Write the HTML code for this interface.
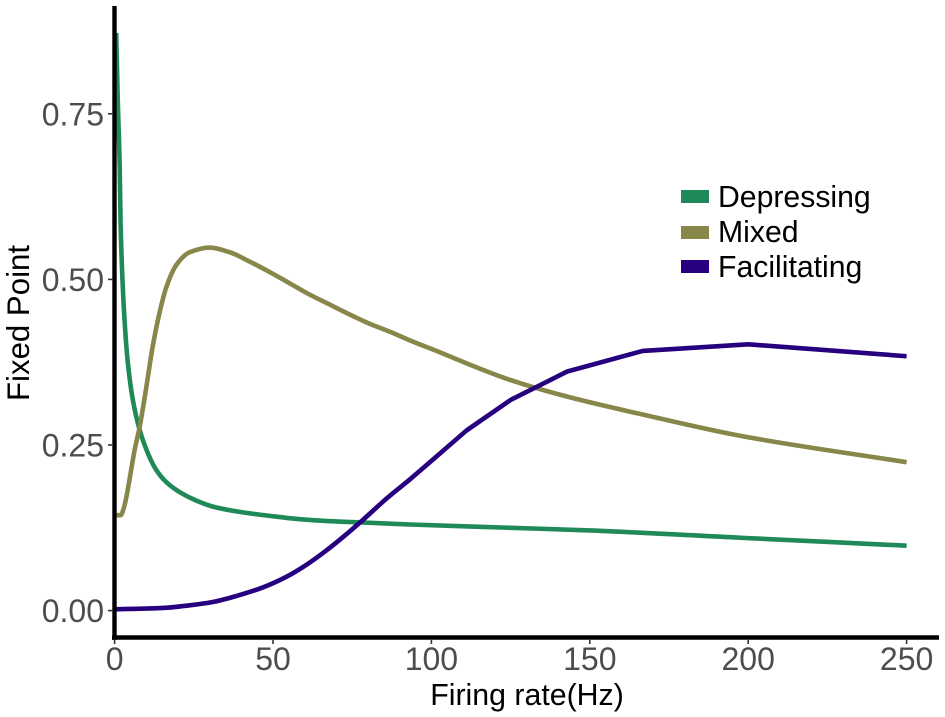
<!DOCTYPE html>
<html>
<head>
<meta charset="utf-8">
<title>Fixed Point vs Firing rate</title>
<style>
html,body{margin:0;padding:0;background:#fff;}
svg{display:block;font-family:"Liberation Sans",sans-serif;}
</style>
</head>
<body>
<svg id="chart" xmlns="http://www.w3.org/2000/svg" width="945" height="717" viewBox="0 0 945 717"></svg>
<script>
const xTicks = [0, 50, 100, 150, 200, 250];
const yTicks = [0, 0.25, 0.5, 0.75];
const yTickLabels = ["0.00", "0.25", "0.50", "0.75"];
const seriesNames = ["Depressing", "Mixed", "Facilitating"];
const depressingRate = [0.5,1.0,1.6,1.9,2.4,3.2,4.2,5.8,7.9,11,13.2,16.3,20.5,25.8,31,39.5,49,58.4,67.9,78.3,93.2,125,150,197.4,250];
const depressingValue = [0.872,0.771,0.672,0.582,0.509,0.434,0.373,0.317,0.273,0.232,0.212,0.194,0.179,0.166,0.157,0.149,0.143,0.138,0.135,0.133,0.130,0.125,0.121,0.110,0.098];
const mixedRate = [0.5,1.9,2.8,3.7,5,6.3,7.9,10,12,14.2,16.3,19.5,23.7,30,36.3,42.6,49,55.3,61.6,67.9,74.2,80.5,86.9,93.2,99.5,125,142.9,166.7,197.4,250];
const mixedValue = [0.144,0.144,0.153,0.171,0.206,0.242,0.277,0.337,0.398,0.450,0.488,0.522,0.541,0.548,0.541,0.527,0.511,0.494,0.477,0.462,0.447,0.433,0.421,0.408,0.396,0.348,0.323,0.296,0.264,0.224];
const facilitatingRate = [0,15.3,23.7,31,38.4,46.8,54.2,60.5,66.9,72.1,78.4,85.8,93.2,100,111.1,125,142.9,166.7,200,250];
const facilitatingValue = [0.002,0.004,0.008,0.013,0.022,0.035,0.051,0.069,0.091,0.111,0.137,0.169,0.198,0.226,0.272,0.318,0.361,0.392,0.402,0.384];

const colors = ["#1f8a57", "#88874a", "#27007f"];
const straightFromRate = [Infinity, Infinity, 100];
const svgNS = "http://www.w3.org/2000/svg";
const svg = document.getElementById("chart");
const xScale = v => 114.6 + v * 3.168;
const yScale = v => 610.6 - v * 662.4;

function add(tag, attrs, parent) {
  const el = document.createElementNS(svgNS, tag);
  for (const k in attrs) el.setAttribute(k, attrs[k]);
  (parent || svg).appendChild(el);
  return el;
}

// monotone cubic path through the data, straight segments past the given rate
function linePath(xs, ys, straightFrom) {
  const px = xs.map(xScale), py = ys.map(yScale), n = px.length;
  const s = [];
  for (let i = 0; i < n - 1; i++) s.push((py[i + 1] - py[i]) / (px[i + 1] - px[i]));
  const m = [s[0]];
  for (let i = 1; i < n - 1; i++) {
    if (s[i - 1] * s[i] <= 0) { m.push(0); continue; }
    const h0 = px[i] - px[i - 1], h1 = px[i + 1] - px[i];
    m.push(3 * (h0 + h1) / ((2 * h1 + h0) / s[i - 1] + (h1 + 2 * h0) / s[i]));
  }
  m.push(s[n - 2]);
  let d = "M" + px[0].toFixed(2) + " " + py[0].toFixed(2);
  for (let i = 0; i < n - 1; i++) {
    if (xs[i] >= straightFrom) {
      d += " L" + px[i + 1].toFixed(2) + " " + py[i + 1].toFixed(2);
    } else {
      const h = (px[i + 1] - px[i]) / 3;
      d += " C" + (px[i] + h).toFixed(2) + " " + (py[i] + m[i] * h).toFixed(2) + " " +
        (px[i + 1] - h).toFixed(2) + " " + (py[i + 1] - m[i + 1] * h).toFixed(2) + " " +
        px[i + 1].toFixed(2) + " " + py[i + 1].toFixed(2);
    }
  }
  return d;
}

// series
const rates = [depressingRate, mixedRate, facilitatingRate];
const values = [depressingValue, mixedValue, facilitatingValue];
seriesNames.forEach((name, i) => {
  const p = add("path", {d: linePath(rates[i], values[i], straightFromRate[i]), fill: "none", stroke: colors[i], "stroke-width": 4.6, "stroke-linejoin": "round"});
  
  
});

// axes
const yAxis = add("line", {x1: 114.5, x2: 114.5, y1: 6, y2: 640, stroke: "#000", "stroke-width": 4.4});


const xAxis = add("line", {x1: 112, x2: 939, y1: 637.5, y2: 637.5, stroke: "#000", "stroke-width": 4.4});



// ticks
xTicks.forEach(t => {
  const tick = add("line", {x1: xScale(t), x2: xScale(t), y1: 639, y2: 644, stroke: "#333", "stroke-width": 1.6});
  
  
  const label = add("text", {x: xScale(t), y: 670, "text-anchor": "middle", "font-size": 32, fill: "#4d4d4d"});
  label.textContent = String(t);
  
  
});
yTicks.forEach((t, i) => {
  const tick = add("line", {x1: 108, x2: 113, y1: yScale(t), y2: yScale(t), stroke: "#333", "stroke-width": 1.6});
  
  
  const label = add("text", {x: 104, y: yScale(t) + 11.5, "text-anchor": "end", "font-size": 32, fill: "#4d4d4d"});
  label.textContent = yTickLabels[i];
  
  
});

// axis titles
const xTitle = add("text", {x: 527, y: 705, "text-anchor": "middle", "font-size": 30.3, fill: "#000"});
xTitle.textContent = "Firing rate(Hz)";


const yTitle = add("text", {x: 0, y: 0, transform: "translate(29 323) rotate(-90)", "text-anchor": "middle", "font-size": 31.2, fill: "#000"});
yTitle.textContent = "Fixed Point";



// legend
const legendKeyTops = [190, 226, 260];
const legendBaselines = [207, 242, 277];
seriesNames.forEach((name, i) => {
  const key = add("rect", {x: 681, y: legendKeyTops[i], width: 28, height: 13, fill: colors[i]});
  
  
  const label = add("text", {x: 718, y: legendBaselines[i], "font-size": 30.2, fill: "#000"});
  label.textContent = name;
  
  
});
</script>
</body>
</html>
